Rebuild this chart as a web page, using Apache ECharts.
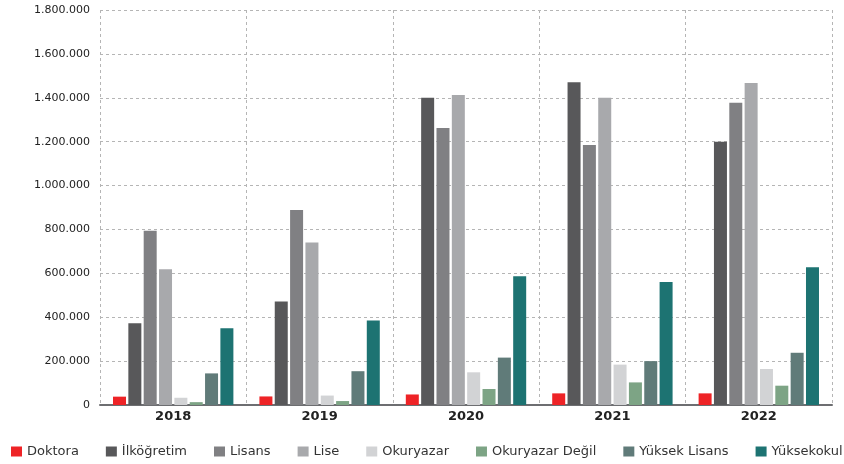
<!DOCTYPE html>
<html>
<head>
<meta charset="utf-8">
<script src="https://cdn.jsdelivr.net/npm/echarts@6/dist/echarts.min.js"></script>
<style>
html,body{margin:0;padding:0;background:#fff;}
#chart{width:844px;height:464px;}
</style>
</head>
<body>
<div id="chart"></div>
<script>
const years = ['2018', '2019', '2020', '2021', '2022'];
const seriesNames = ['Doktora', 'İlköğretim', 'Lisans', 'Lise', 'Okuryazar', 'Okuryazar Değil', 'Yüksek Lisans', 'Yüksekokul'];
const doktora        = [38000, 39000, 48000, 53000, 53000];
const ilkogretim     = [372000, 472000, 1400000, 1471000, 1200000];
const lisans         = [794000, 889000, 1262000, 1185000, 1377000];
const lise           = [619000, 740000, 1413000, 1400000, 1467000];
const okuryazar      = [33000, 43000, 149000, 184000, 164000];
const okuryazarDegil = [13000, 18000, 73000, 103000, 88000];
const yuksekLisans   = [144000, 154000, 216000, 200000, 238000];
const yuksekokul     = [350000, 385000, 587000, 560000, 628000];
const yTicks = [0, 200000, 400000, 600000, 800000, 1000000, 1200000, 1400000, 1600000, 1800000];
const colors = ['#EE2326', '#58585A', '#808083', '#A8A9AC', '#D2D3D5', '#7DA485', '#607B79', '#1D7372'];

const allData = [doktora, ilkogretim, lisans, lise, okuryazar, okuryazarDegil, yuksekLisans, yuksekokul];
const font = '"DejaVu Sans", sans-serif';

function fmt(v) {
  return String(v).replace(/\B(?=(\d{3})+(?!\d))/g, '.');
}

const chart = echarts.init(document.getElementById('chart'), null, {renderer: 'canvas'});
chart.setOption({
  animation: false,
  color: colors,
  textStyle: {fontFamily: font},
  grid: {left: 100, right: 12, top: 10, bottom: 59},
  legend: {
    left: 6,
    top: 440,
    width: 1200,
    itemWidth: 11,
    itemHeight: 10,
    itemGap: 27,
    icon: 'rect',
    textStyle: {fontFamily: font, fontSize: 13, color: '#333'},
    data: seriesNames
  },
  xAxis: {
    type: 'category',
    data: years,
    axisTick: {show: false},
    axisLine: {lineStyle: {color: '#6d6e71', width: 2}},
    axisLabel: {fontFamily: font, fontSize: 13, fontWeight: 'bold', color: '#222', margin: 5},
    splitLine: {show: true, lineStyle: {type: [3, 3], color: '#b5b5b5', width: 1}}
  },
  yAxis: {
    type: 'value',
    min: yTicks[0],
    max: yTicks[yTicks.length - 1],
    interval: yTicks[1] - yTicks[0],
    axisLine: {show: false},
    axisTick: {show: false},
    axisLabel: {fontFamily: font, fontSize: 11, color: '#222', margin: 10, formatter: v => fmt(v)},
    splitLine: {lineStyle: {type: [3, 3], color: '#b5b5b5', width: 1}}
  },
  series: seriesNames.map((name, i) => ({
    name: name,
    type: 'bar',
    data: allData[i],
    barWidth: 13,
    barGap: '18%',
    itemStyle: {color: colors[i]}
  }))
});
</script>
</body>
</html>
